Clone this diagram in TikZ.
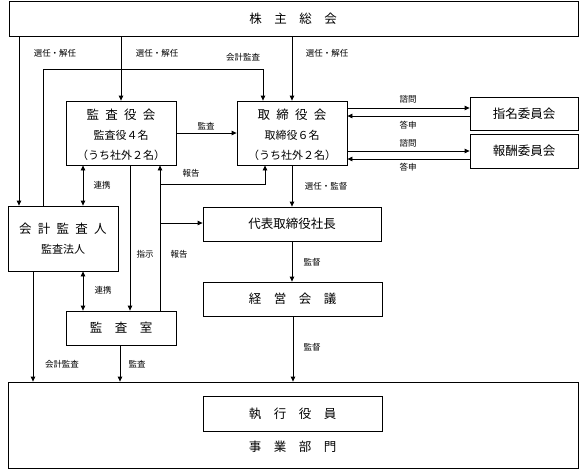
\documentclass[tikz,border=0pt]{standalone}
\usepackage{fontspec}
\setmainfont{Noto Sans CJK JP}
\usetikzlibrary{arrows.meta}
\begin{document}
\begin{tikzpicture}[x=1pt,y=-1pt,
  box/.style={draw, line width=0.8pt, inner sep=0pt},
  ttl/.style={inner sep=0pt, font=\fontsize{12.5}{13}\selectfont},
  sub/.style={inner sep=0pt, font=\fontsize{11}{12}\selectfont},
  lbl/.style={inner sep=0pt, font=\fontsize{8.5}{10}\selectfont},
  ln/.style={line width=0.8pt},
  arr/.style={line width=0.8pt, -{Triangle[length=5pt,width=4.5pt]}},
  darr/.style={line width=0.8pt, {Triangle[length=5pt,width=4.5pt]}-{Triangle[length=5pt,width=4.5pt]}}]
\useasboundingbox (0,0) rectangle (581,472);
\fill[white] (0,0) rectangle (581,472);
% boxes
\node[box, minimum width=569pt, minimum height=34.5pt] (sh) at (293.5,18.75) {};
\node[box, minimum width=110pt, minimum height=64pt] (kansa) at (121,133) {};
\node[box, minimum width=110pt, minimum height=64pt] (tori) at (292,133) {};
\node[box, minimum width=108pt, minimum height=33pt] (shimei) at (524,113.5) {};
\node[box, minimum width=108pt, minimum height=34pt] (hoshu) at (524,151) {};
\node[box, minimum width=110pt, minimum height=65pt] (kaikei) at (63,238.5) {};
\node[box, minimum width=178pt, minimum height=34pt] (daihyo) at (292,224) {};
\node[box, minimum width=179pt, minimum height=34pt] (keiei) at (292.5,299) {};
\node[box, minimum width=110pt, minimum height=34pt] (shitsu) at (121,328) {};
\node[box, minimum width=570pt, minimum height=86pt] (jigyo) at (293,425) {};
\node[box, minimum width=179pt, minimum height=35pt] (shikko) at (292.5,413.5) {};
% texts in boxes
\node[ttl] (tsh) at (293,19) {株\hspace{1em}主\hspace{1em}総\hspace{1em}会};
\node[ttl] (tka1) at (121,115) {監\hspace{0.5em}査\hspace{0.5em}役\hspace{0.5em}会};
\node[sub] (tka2) at (121,135) {監査役４名};
\node[sub] (tka3) at (121,155) {（うち社外２名）};
\node[ttl] (tto1) at (292,115) {取\hspace{0.5em}締\hspace{0.5em}役\hspace{0.5em}会};
\node[sub] (tto2) at (292,135) {取締役６名};
\node[sub] (tto3) at (292,155) {（うち社外２名）};
\node[ttl] (tsm) at (524,113.5) {指名委員会};
\node[ttl] (tho) at (524,151) {報酬委員会};
\node[ttl] (tkk1) at (63,229) {会\hspace{0.5em}計\hspace{0.5em}監\hspace{0.5em}査\hspace{0.5em}人};
\node[sub] (tkk2) at (63,249) {監査法人};
\node[ttl] (tks) at (121,328) {監\hspace{1em}査\hspace{1em}室};
\node[ttl] (tdh) at (292,224) {代表取締役社長};
\node[ttl] (tke) at (292.5,299) {経\hspace{1em}営\hspace{1em}会\hspace{1em}議};
\node[ttl] (tsk) at (292.5,413.5) {執\hspace{1em}行\hspace{1em}役\hspace{1em}員};
\node[ttl] (tjg) at (292.5,447) {事\hspace{1em}業\hspace{1em}部\hspace{1em}門};
% connectors from shareholders
\draw[arr] (sh.south -| 19,0) -- (kaikei.north -| 19,0);
\draw[arr] (sh.south -| kansa.north) -- (kansa.north);
\draw[arr] (sh.south -| tori.north) -- (tori.north);
\draw[arr] (kaikei.north -| 43,0) |- (263,69) -- (tori.north -| 263,0);
% audit
\draw[arr] (kansa.east) -- (tori.east -| tori.west);
\draw[darr] (kansa.south -| 83,0) -- (kaikei.north -| 83,0);
\draw[darr] (kaikei.south -| 83,0) -- (shitsu.north -| 83,0);
\draw[arr] (kansa.south -| 130,0) -- (shitsu.north -| 130,0);
\draw[arr] (shitsu.north -| 160,0) -- (kansa.south -| 160,0);
\coordinate (r1) at (160,184);
\coordinate (r2) at (160,223);
\draw[arr] (r1) -| (tori.south -| 265,0);
\draw[arr] (r2) -- (daihyo.west |- r2);
% executive chain
\draw[arr] (tori.south) -- (daihyo.north);
\draw[arr] (daihyo.south) -- (daihyo.south |- keiei.north);
\draw[arr] (keiei.south -| 293,0) -- (jigyo.north -| 293,0);
\draw[arr] (kaikei.south -| 33,0) -- (jigyo.north -| 33,0);
\draw[arr] (shitsu.south -| 120,0) -- (jigyo.north -| 120,0);
% committees
\draw[arr] (tori.east |- 0,108) -- (shimei.west |- 0,108);
\draw[arr] (shimei.west |- 0,116) -- (tori.east |- 0,116);
\draw[arr] (tori.east |- 0,151) -- (hoshu.west |- 0,151);
\draw[arr] (hoshu.west |- 0,159) -- (tori.east |- 0,159);
% labels
\node[lbl] (l1) at (55,53) {選任・解任};
\node[lbl] (l2) at (157,53) {選任・解任};
\node[lbl] (l3) at (327,53) {選任・解任};
\node[lbl] (l4) at (243,57) {会計監査};
\node[lbl] (l5) at (206,126) {監査};
\node[lbl] (l6) at (191,173) {報告};
\node[lbl] (l7) at (102,185) {連携};
\node[lbl] (l8) at (103,290) {連携};
\node[lbl] (l9) at (145,254) {指示};
\node[lbl] (l10) at (179,254) {報告};
\node[lbl] (l11) at (62,364) {会計監査};
\node[lbl] (l12) at (137,364) {監査};
\node[lbl] (l13) at (326,186) {選任・監督};
\node[lbl] (l14) at (312,262) {監督};
\node[lbl] (l15) at (312,347) {監督};
\node[lbl] (l16) at (408,99) {諮問};
\node[lbl] (l17) at (408,125) {答申};
\node[lbl] (l18) at (408,143) {諮問};
\node[lbl] (l19) at (408,167) {答申};
\end{tikzpicture}
\end{document}
